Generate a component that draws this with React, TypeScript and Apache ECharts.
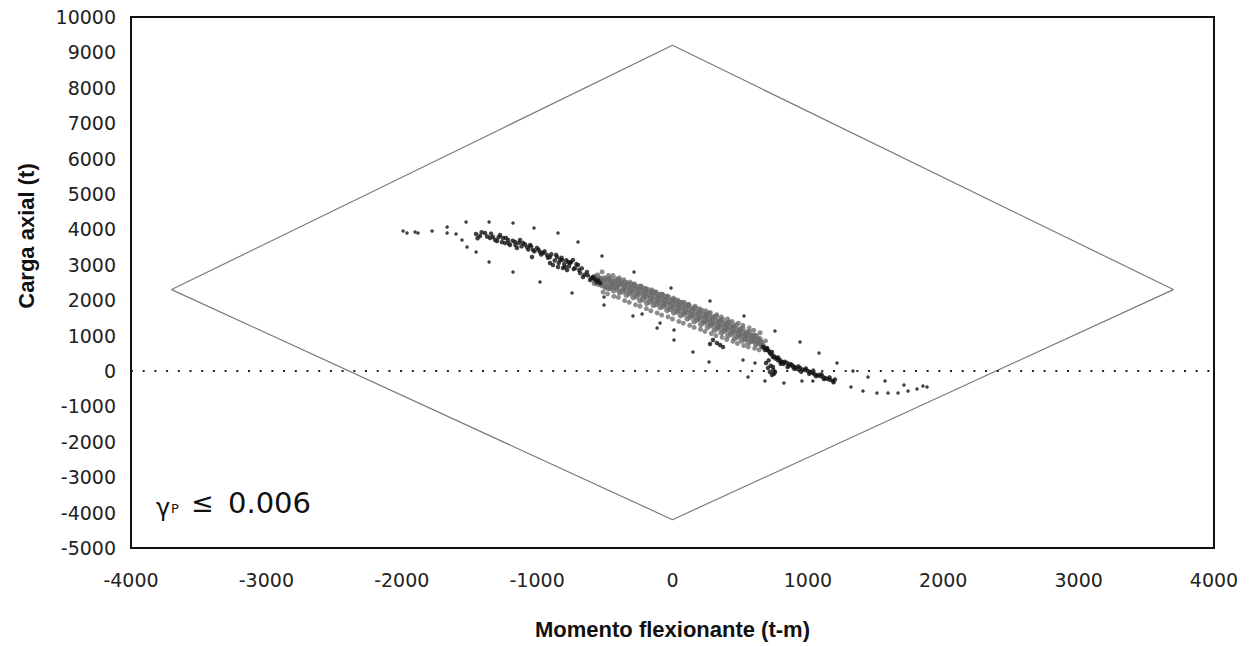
import React, { useEffect, useRef } from 'react';
import * as echarts from 'echarts';

const xRange = [-4000, 4000];
const yRange = [-5000, 10000];
const tickStep = 1000;

// Interaction diagram (diamond)
const diamondPoints: number[][] = [
  [0, 9200], [3700, 2300], [0, -4200], [-3700, 2300], [0, 9200],
];

// Zero reference line
const zeroLinePoints: number[][] = [[-4000, 0], [4000, 0]];

// Isolated black points
const scatteredPoints: number[][] = [
  [-1990, 3955], [-1961, 3899], [-1902, 3927], [-1880, 3899], [-1776, 3955],
  [-1665, 4068], [-1665, 3899], [-1599, 3870], [-1525, 4209], [-1555, 3701],
  [-1518, 3503], [-1451, 3362], [-1355, 4209], [-1355, 3079], [-1178, 4181],
  [-1178, 2797], [-1023, 4040], [-979, 2514], [-846, 3899], [-698, 3644],
  [-742, 2203], [-521, 3249], [-506, 2090], [-506, 1865], [-284, 2797],
  [-292, 1554], [-225, 1610], [-114, 1215], [-92, 1356], [-11, 2345],
  [11, 1158], [11, 876], [151, 537], [277, 1978], [270, 254],
  [528, 1554], [521, 311], [558, -170], [683, -283], [757, 1130],
  [823, -339], [942, 819], [956, -283], [1037, -283], [1082, 509],
  [1215, 226], [1318, -452], [1333, 0], [1407, -565], [1444, -170],
  [1510, -622], [1570, -283], [1592, -622], [1666, -622], [1710, -396],
  [1740, -565], [1806, -509], [1850, -424], [1880, -452], [609, 226],
];

// Dense black band (upper-left part)
const blackBandUpper: number[][] = [
  [-1451, 3870], [-1422, 3814], [-1385, 3899], [-1348, 3757], [-1326, 3786],
  [-1296, 3673], [-1274, 3842], [-1252, 3757], [-1237, 3616], [-1215, 3701],
  [-1200, 3560], [-1163, 3644], [-1149, 3475], [-1126, 3701], [-1104, 3616],
  [-1075, 3503], [-1052, 3560], [-1038, 3221], [-1030, 3418], [-1001, 3475],
  [-979, 3362], [-956, 3334], [-927, 3277], [-905, 3221], [-905, 3051],
  [-883, 2995], [-853, 3221], [-846, 2938], [-816, 3136], [-809, 2910],
  [-779, 2853], [-772, 3079], [-831, 3136], [-757, 3051], [-735, 3136],
  [-794, 2938], [-720, 2910], [-698, 2995], [-683, 2768], [-632, 2797],
  [-661, 2656], [-609, 2571], [-587, 2656], [-558, 2514], [-535, 2486],
  [-1440, 3750], [-1410, 3920], [-1370, 3800], [-1340, 3880], [-1310, 3700],
  [-1285, 3780], [-1260, 3640], [-1230, 3760], [-1210, 3600], [-1180, 3680],
  [-1160, 3560], [-1135, 3620], [-1115, 3520], [-1090, 3580], [-1065, 3430],
  [-1045, 3520], [-1020, 3380], [-990, 3430], [-970, 3290], [-945, 3380],
  [-920, 3200], [-895, 3300], [-870, 3120], [-860, 3280], [-840, 3050],
  [-820, 3200], [-800, 3020], [-785, 3130], [-765, 2960], [-750, 3080],
  [-730, 2880], [-710, 3020], [-690, 2850], [-670, 2900], [-650, 2720],
  [-625, 2700], [-600, 2620], [-575, 2590], [-550, 2560],
];

// Dense black band (lower-right part)
const blackBandLower: number[][] = [
  [299, 876], [328, 791], [351, 734], [373, 678], [277, 763],
  [668, 678], [683, 593], [698, 650], [720, 509], [735, 537],
  [742, 396], [772, 367], [794, 311], [816, 254], [846, 226],
  [883, 170], [905, 113], [942, 85], [979, 28], [1016, -28],
  [1037, -57], [1074, -113], [1111, -170], [1148, -226], [1185, -283],
  [691, 226], [705, 85], [720, -28], [735, -113], [757, -28], [742, 113],
  [700, 600], [712, 560], [728, 470], [750, 420], [760, 350], [780, 300],
  [800, 250], [820, 200], [860, 150], [890, 120], [920, 60], [960, 40],
  [1000, 0], [1050, -90], [1090, -140], [1130, -200], [1165, -250],
  [710, 300], [725, 150], [745, 30], [750, -80],
  [780, 380], [800, 200], [830, 260], [850, 110], [870, 200], [900, 60],
  [930, 130], [950, -20], [985, 70], [1010, -80], [1040, 10], [1060, -150],
  [1100, -90], [1120, -230], [1160, -180], [1190, -320], [1200, -240],
];

// Dense gray band (middle part)
const grayBandPoints: number[][] = [
  [-580, 2650], [-570, 2520], [-555, 2700], [-545, 2450], [-530, 2580], [-520, 2420],
  [-505, 2620], [-495, 2360], [-480, 2520], [-470, 2330], [-460, 2600], [-450, 2440],
  [-435, 2280], [-425, 2510], [-410, 2390], [-400, 2560], [-390, 2220], [-375, 2450],
  [-360, 2330], [-350, 2500], [-340, 2150], [-325, 2400], [-310, 2270], [-300, 2440],
  [-290, 2080], [-275, 2330], [-260, 2200], [-250, 2380], [-240, 1990], [-225, 2260],
  [-210, 2120], [-200, 2300], [-190, 1920], [-175, 2180], [-160, 2050], [-150, 2230],
  [-140, 1860], [-125, 2100], [-110, 1970], [-100, 2150], [-90, 1800], [-75, 2030],
  [-60, 1900], [-50, 2080], [-40, 1720], [-25, 1960], [-10, 1830], [0, 2000],
  [10, 1650], [25, 1890], [40, 1760], [50, 1930], [60, 1570], [75, 1810],
  [90, 1680], [100, 1850], [110, 1480], [125, 1730], [140, 1590], [150, 1770],
  [160, 1400], [175, 1650], [190, 1510], [200, 1680], [210, 1320], [225, 1570],
  [240, 1430], [250, 1600], [260, 1240], [275, 1480], [290, 1350], [300, 1520],
  [310, 1160], [325, 1400], [340, 1270], [350, 1430], [360, 1080], [375, 1320],
  [390, 1190], [400, 1350], [410, 1000], [425, 1240], [440, 1100], [450, 1270],
  [460, 930], [475, 1150], [490, 1020], [500, 1180], [510, 860], [525, 1070],
  [540, 950], [550, 1090], [560, 800], [575, 990], [590, 880], [600, 1000],
  [615, 760], [630, 900], [645, 820], [660, 720],
  [-575, 2480], [-565, 2640], [-550, 2540], [-538, 2620], [-525, 2470], [-512, 2540],
  [-500, 2580], [-488, 2400], [-475, 2610], [-462, 2360], [-455, 2520], [-442, 2480],
  [-430, 2370], [-418, 2590], [-405, 2310], [-395, 2450], [-382, 2520], [-370, 2250],
  [-355, 2410], [-345, 2290], [-332, 2470], [-318, 2190], [-305, 2340], [-295, 2230],
  [-282, 2420], [-268, 2110], [-255, 2290], [-245, 2170], [-232, 2360], [-218, 2030],
  [-205, 2200], [-195, 2090], [-182, 2290], [-168, 1960], [-155, 2130], [-145, 2000],
  [-132, 2220], [-118, 1890], [-105, 2060], [-95, 1940], [-82, 2150], [-68, 1830],
  [-55, 1990], [-45, 1880], [-32, 2080], [-18, 1750], [-5, 1920], [5, 1800],
  [18, 2000], [32, 1680], [45, 1850], [55, 1720], [68, 1930], [82, 1610],
  [95, 1780], [105, 1650], [118, 1860], [132, 1530], [145, 1700], [155, 1560],
  [168, 1780], [182, 1450], [195, 1620], [205, 1480], [218, 1700], [232, 1370],
  [245, 1540], [255, 1400], [268, 1620], [282, 1290], [295, 1460], [305, 1320],
  [318, 1540], [332, 1210], [345, 1380], [355, 1240], [368, 1450], [382, 1130],
  [395, 1300], [405, 1170], [418, 1370], [432, 1050], [445, 1210], [455, 1090],
  [468, 1290], [482, 970], [495, 1130], [505, 1010], [518, 1200], [532, 900],
  [545, 1040], [555, 930], [568, 1100], [582, 840], [595, 960], [605, 860],
  [618, 990], [632, 780], [645, 900], [655, 800], [670, 700],
];

// Outer fringe of the gray band
const grayBandFringe: number[][] = [
  [-520, 2800], [-513, 2230], [-480, 2180], [-473, 2700], [-440, 2700], [-433, 2110],
  [-400, 2080], [-393, 2630], [-360, 2580], [-353, 1990], [-320, 1940], [-313, 2510],
  [-280, 2460], [-273, 1870], [-240, 1830], [-233, 2400], [-200, 2340], [-193, 1760],
  [-160, 1700], [-153, 2290], [-120, 2230], [-113, 1640], [-80, 1580], [-73, 2170],
  [-40, 2120], [-33, 1530], [0, 1470], [7, 2060], [40, 2000], [47, 1400],
  [80, 1350], [87, 1940], [120, 1880], [127, 1290], [160, 1230], [167, 1830],
  [200, 1760], [207, 1180], [240, 1120], [247, 1700], [280, 1650], [287, 1060],
  [320, 1000], [327, 1590], [360, 1530], [367, 950], [400, 890], [407, 1470],
  [440, 1400], [447, 840], [480, 780], [487, 1350], [520, 1290], [527, 720],
  [560, 680], [567, 1220], [600, 1150], [607, 640], [640, 600], [647, 1080],
  [680, 650], [687, 850], [700, 620],
];

export default function App() {
  const ref = useRef<HTMLDivElement>(null);
  useEffect(() => {
    document.body.style.margin = '0';
    const chart = echarts.init(ref.current!, null, { renderer: 'svg' });
    const tickFont = { color: '#222', fontFamily: 'DejaVu Sans', fontSize: 19 };
    const txt = (text: string, x: number, y: number, font: string) => ({
      type: 'text', x, y,
      style: { text, font, fill: '#111', verticalAlign: 'middle', textVerticalAlign: 'middle' },
    });
    chart.setOption({
      animation: false,
      backgroundColor: '#fff',
      grid: {
        left: 131, right: 42, top: 17, bottom: 98,
        show: true, borderColor: '#111', borderWidth: 2, backgroundColor: 'transparent',
      },
      xAxis: {
        type: 'value', min: xRange[0], max: xRange[1], interval: tickStep,
        axisLine: { show: true, onZero: false, lineStyle: { color: '#111', width: 2 } },
        axisTick: { show: false }, splitLine: { show: false },
        axisLabel: { ...tickFont, margin: 22, formatter: (v: number) => String(v) },
        name: 'Momento flexionante (t-m)', nameLocation: 'middle', nameGap: 70,
        nameTextStyle: { fontFamily: 'Liberation Sans', fontWeight: 'bold', fontSize: 22, color: '#111' },
      },
      yAxis: {
        type: 'value', min: yRange[0], max: yRange[1], interval: tickStep,
        axisLine: { show: true, onZero: false, lineStyle: { color: '#111', width: 2 } },
        axisTick: { show: false }, splitLine: { show: false },
        axisLabel: { ...tickFont, margin: 15, formatter: (v: number) => String(v) },
      },
      graphic: [
        {
          type: 'text', x: 26, y: 236, rotation: Math.PI / 2,
          style: {
            text: 'Carga axial (t)', font: 'bold 22px "Liberation Sans"', fill: '#111',
            align: 'center', verticalAlign: 'middle', textAlign: 'center', textVerticalAlign: 'middle',
          },
        },
        txt('γ', 156, 508, '24px "DejaVu Sans"'),
        txt('P', 171, 508, '13px "DejaVu Sans"'),
        txt('≤', 191, 502, '27px "DejaVu Sans"'),
        txt('0.006', 228, 503, '29px "DejaVu Sans"'),
      ],
      series: [
        {
          type: 'line', data: diamondPoints, showSymbol: false, silent: true,
          lineStyle: { color: '#7a7a7a', width: 1.2 },
        },
        {
          type: 'line', data: zeroLinePoints, showSymbol: false, silent: true,
          lineStyle: { color: '#222', width: 2, type: [2, 9.7] },
        },
        {
          type: 'scatter', data: grayBandFringe, symbol: 'circle', symbolSize: 5,
          itemStyle: { color: '#707070' },
        },
        {
          type: 'scatter', data: grayBandPoints, symbol: 'circle', symbolSize: 6,
          itemStyle: { color: '#6b6b6b' },
        },
        {
          type: 'scatter', data: blackBandUpper, symbol: 'circle', symbolSize: 4.5,
          itemStyle: { color: '#111' },
        },
        {
          type: 'scatter', data: blackBandLower, symbol: 'circle', symbolSize: 4.5,
          itemStyle: { color: '#111' },
        },
        {
          type: 'scatter', data: scatteredPoints, symbol: 'circle', symbolSize: 3.5,
          itemStyle: { color: '#111' },
        },
      ],
    });
    return () => chart.dispose();
  }, []);
  return <div ref={ref} style={{ width: 1256, height: 646 }} />;
}
